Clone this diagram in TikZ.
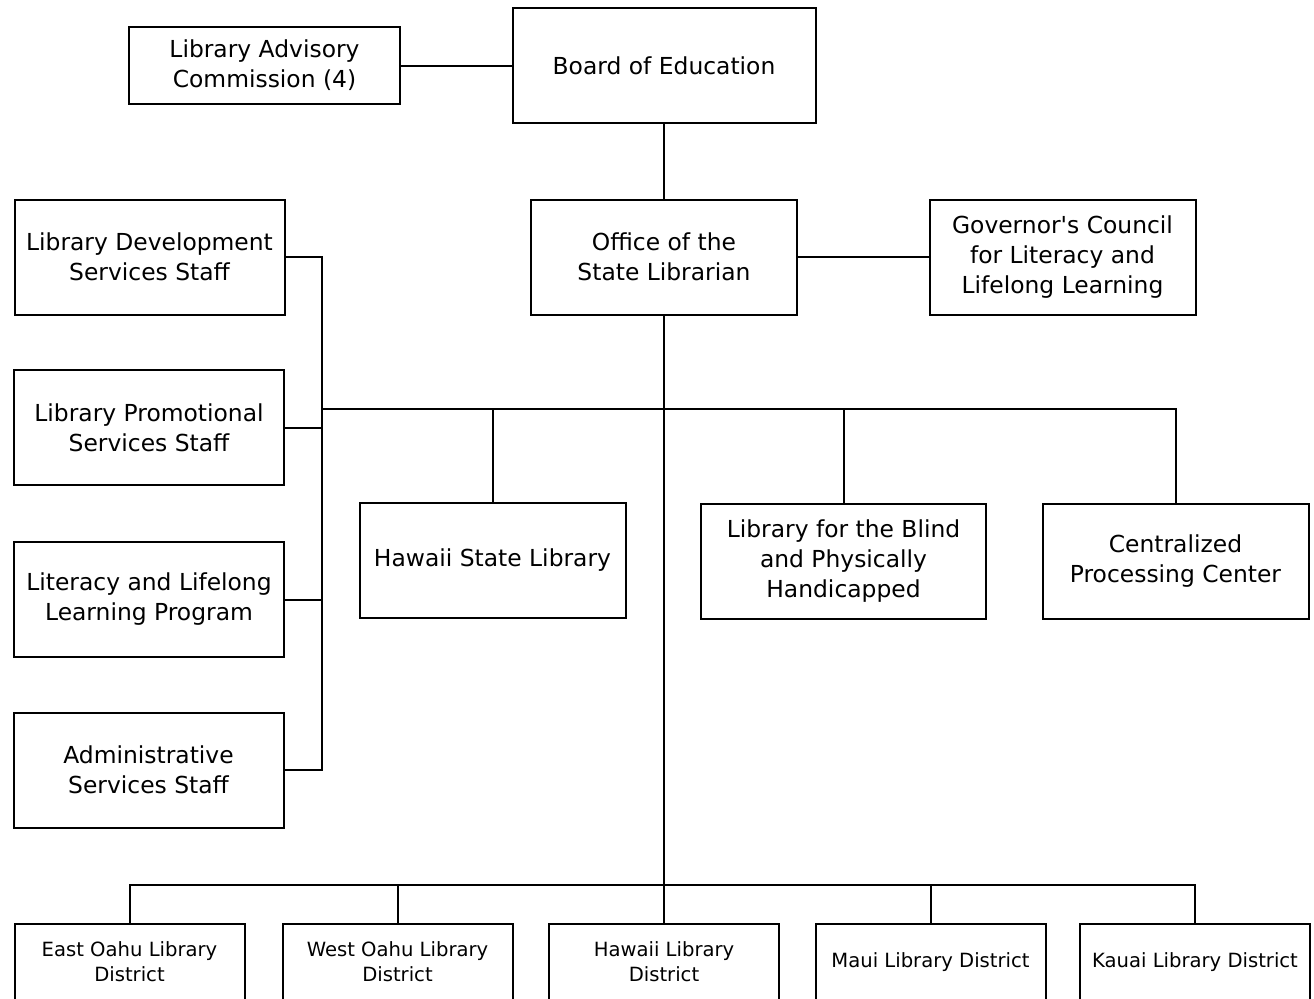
\documentclass[tikz,border=0pt]{standalone}
\usepackage{fontspec}
\usepackage{tikz}
\usetikzlibrary{positioning,calc}
\newfontfamily\chartfont{DejaVu Sans}
\tikzset{
  unitbox/.style={draw=black,line width=1pt,
                  minimum width=133pt,minimum height=57.5pt,
                  align=center,inner sep=2pt,
                  font=\chartfont\fontsize{11.7}{15}\selectfont},
  distbox/.style={draw=black,line width=1pt,
                  minimum width=115pt,minimum height=55pt,
                  anchor=north,inner sep=0pt},
  distlabel/.style={align=center,inner sep=1pt,
                    font=\chartfont\fontsize{9.8}{12.5}\selectfont},
  orgline/.style={line width=1pt}
}

\begin{document}
\begin{tikzpicture}[x=0.5pt,y=-0.5pt]
  \useasboundingbox (0,0) rectangle (1314,998);

  \node[unitbox,minimum width=135.5pt,minimum height=38.5pt] (adv) at (264.5,65.5) {Library Advisory\\Commission (4)};
  \node[unitbox,minimum width=151.5pt] (board) at (664,65.5) {Board of Education};
  \node[unitbox] (office) at (664,257) {Office of the\\State Librarian};
  \node[unitbox] (gov) at (1062.5,257) {Governor's Council\\for Literacy and\\Lifelong Learning};

  \node[unitbox,minimum width=135pt] (dev) at (149.5,257) {Library Development\\Services Staff};
  \node[unitbox,minimum width=135pt] (promo) at (149,427.5) {Library Promotional\\Services Staff};
  \node[unitbox,minimum width=135pt] (lit) at (149,599.5) {Literacy and Lifelong\\Learning Program};
  \node[unitbox,minimum width=135pt] (admin) at (148.5,770) {Administrative\\Services Staff};

  \node[unitbox] (hsl) at (492.5,560.5) {Hawaii State Library};
  \node[unitbox,minimum width=142.5pt] (blind) at (843.5,561) {Library for the Blind\\and Physically\\Handicapped};
  \node[unitbox] (cpc) at (1175.5,561.5) {Centralized\\Processing Center};

  \node[distbox] (eo) at (129.5,923) {};
  \node[distbox] (wo) at (397.5,923) {};
  \node[distbox] (hd) at (664,923) {};
  \node[distbox] (mu) at (930.5,923) {};
  \node[distbox] (ka) at (1195,923) {};
  \node[distlabel] (eotext) at (129.5,962) {East Oahu Library\\District};
  \node[distlabel] (wotext) at (397.5,962) {West Oahu Library\\District};
  \node[distlabel] (hdtext) at (664,962) {Hawaii Library\\District};
  \node[distlabel] (mutext) at (930.5,962) {Maui Library District};
  \node[distlabel] (katext) at (1195,962) {Kauai Library District};

  \coordinate (ltop) at (322,257);
  \coordinate (lbot) at (322,770);
  \coordinate (mbus) at (664,409);
  \coordinate (bbus) at (664,885);

  \draw[orgline] (adv) -- (board);
  \draw[orgline] (board) -- (office);
  \draw[orgline] (office) -- (gov);
  \draw[orgline] (office) -- (hd.north);

  \draw[orgline] (dev.east) -- (ltop) -- (lbot) -- (admin.east);
  \draw[orgline] (promo.east) -- (promo.east -| ltop);
  \draw[orgline] (lit.east) -- (lit.east -| ltop);

  \draw[orgline] (ltop |- mbus) -| (cpc.north);
  \draw[orgline] (hsl.north) -- (hsl.north |- mbus);
  \draw[orgline] (blind.north) -- (blind.north |- mbus);

  \draw[orgline] (eo.north) |- (bbus) -| (ka.north);
  \draw[orgline] (wo.north) -- (wo.north |- bbus);
  \draw[orgline] (mu.north) -- (mu.north |- bbus);
\end{tikzpicture}
\end{document}
